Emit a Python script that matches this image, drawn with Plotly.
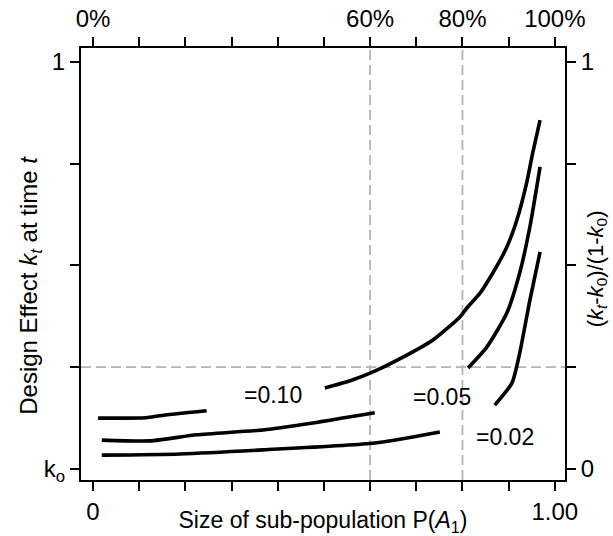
import plotly.graph_objects as go

# ---- data ----
x_ticks = [0.0, 0.1, 0.2, 0.3, 0.4, 0.5, 0.6, 0.7, 0.8, 0.9, 1.0]
x_bottom_text = ["0", "", "", "", "", "", "", "", "", "", "1.00"]
x_top_text = ["0%", "", "", "", "", "", "60%", "", "80%", "", "100%"]
y_ticks = [0.0, 0.25, 0.5, 0.75, 1.0]
y_left_text = ["k<sub>o</sub>", "", "", "", "1"]
y_right_text = ["0", "", "", "", "1"]

# rho = 0.10 curve (two pieces, broken by its label)
r10_a_x = [0.011, 0.115, 0.145, 0.246]
r10_a_y = [0.125, 0.126, 0.131, 0.143]
r10_b_x = [0.502, 0.560, 0.615, 0.665, 0.736, 0.794, 0.810, 0.838, 0.866, 0.896, 0.918, 0.939, 0.952, 0.968]
r10_b_y = [0.199, 0.218, 0.243, 0.271, 0.317, 0.373, 0.396, 0.432, 0.482, 0.545, 0.612, 0.703, 0.776, 0.857]

# rho = 0.05 curve
r05_a_x = [0.019, 0.123, 0.225, 0.368, 0.476, 0.610]
r05_a_y = [0.071, 0.069, 0.084, 0.096, 0.113, 0.138]
r05_b_x = [0.812, 0.853, 0.896, 0.924, 0.946, 0.968]
r05_b_y = [0.248, 0.300, 0.383, 0.482, 0.595, 0.742]

# rho = 0.02 curve
r02_a_x = [0.019, 0.188, 0.368, 0.610, 0.751]
r02_a_y = [0.034, 0.037, 0.047, 0.064, 0.091]
r02_b_x = [0.870, 0.907, 0.924, 0.946, 0.968]
r02_b_y = [0.157, 0.211, 0.285, 0.415, 0.533]

label_text = ["=0.10", "=0.05", "=0.02"]
label_x = [0.39, 0.755, 0.892]
label_y = [0.182, 0.177, 0.079]

ref_x = [0.6, 0.8]
ref_y = [0.25]

FONT = "Liberation Sans, Arial, sans-serif"
TICK_SIZE = 24
TITLE_SIZE = 23
fig = go.Figure()

for xs, ys in [(r10_a_x, r10_a_y), (r10_b_x, r10_b_y),
               (r05_a_x, r05_a_y), (r05_b_x, r05_b_y),
               (r02_a_x, r02_a_y), (r02_b_x, r02_b_y)]:
    fig.add_trace(go.Scatter(x=xs, y=ys, mode="lines",
                             line=dict(color="black", width=3.6, shape="spline", smoothing=0.6),
                             showlegend=False, hoverinfo="skip"))

# dummy trace so the top/right axes are drawn
fig.add_trace(go.Scatter(x=[None], y=[None], xaxis="x2", yaxis="y2",
                         showlegend=False, hoverinfo="skip"))

for xv in ref_x:
    fig.add_shape(type="line", xref="x", yref="paper", x0=xv, x1=xv, y0=0, y1=1,
                  line=dict(color="#b4b4b4", width=1.8, dash="10px,5px"), layer="below")
for yv in ref_y:
    fig.add_shape(type="line", xref="paper", yref="y", x0=0, x1=1, y0=yv, y1=yv,
                  line=dict(color="#b4b4b4", width=1.8, dash="10px,5px"), layer="below")

for t, xx, yy in zip(label_text, label_x, label_y):
    fig.add_annotation(x=xx, y=yy, xref="x", yref="y", text=t, showarrow=False,
                       font=dict(size=23, color="black", family=FONT))

# axis titles (placed as rotated annotations to match the reference position)
fig.add_annotation(xref="paper", yref="paper", x=-0.105, y=0.45, textangle=-90,
                   text="Design Effect <i>k<sub>t</sub></i> at time <i>t</i>",
                   showarrow=False, xanchor="center", yanchor="middle",
                   font=dict(size=24, color="black", family=FONT))
fig.add_annotation(xref="paper", yref="paper", x=1.066, y=0.49, textangle=-90,
                   text="(<i>k<sub>t</sub></i>-<i>k</i><sub>0</sub>)/(1-<i>k</i><sub>0</sub>)",
                   showarrow=False, xanchor="center", yanchor="middle",
                   font=dict(size=22, color="black", family=FONT))

xr = [-0.026, 1.022]
yr = [-0.027, 1.034]
axis_common = dict(showgrid=False, zeroline=False, showline=True, linecolor="black",
                   linewidth=2, ticks="outside", ticklen=9, tickwidth=2, tickcolor="black",
                   tickfont=dict(size=TICK_SIZE, color="black", family=FONT))

fig.update_layout(
    width=613, height=536,
    margin=dict(l=81, r=48, t=48, b=56),
    paper_bgcolor="white", plot_bgcolor="white",
    font=dict(family=FONT, color="black", size=TICK_SIZE),
    xaxis=dict(range=xr, tickmode="array", tickvals=x_ticks, ticktext=x_bottom_text,
               title=dict(text="Size of sub-population P(<i>A</i><sub>1</sub>)",
                          font=dict(size=TITLE_SIZE, family=FONT), standoff=0),
               automargin=False, **axis_common),
    xaxis2=dict(range=xr, overlaying="x", side="top", anchor="y", tickmode="array",
                tickvals=x_ticks, ticktext=x_top_text, automargin=False, **axis_common),
    yaxis=dict(range=yr, tickmode="array", tickvals=y_ticks, ticktext=y_left_text,
               automargin=False, **axis_common),
    yaxis2=dict(range=yr, overlaying="y", side="right", anchor="x", tickmode="array",
                tickvals=y_ticks, ticktext=y_right_text,
                automargin=False, **axis_common),
)

fig.write_html("out.html")
